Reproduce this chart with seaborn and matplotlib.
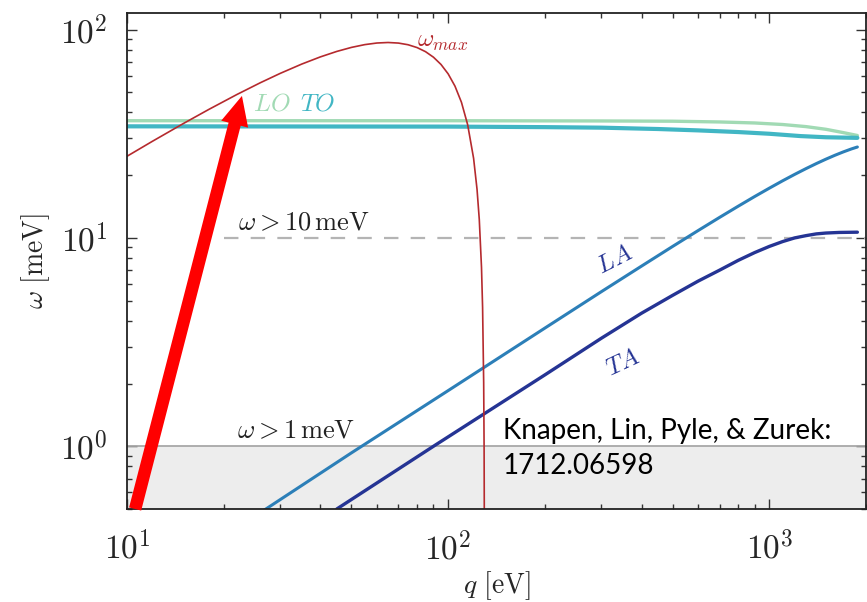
import numpy as np
import matplotlib
matplotlib.use("Agg")
import matplotlib.pyplot as plt
import matplotlib.ticker as mticker
import seaborn as sns

# omega_max kinematic curve (q in eV, omega in meV)
q_wmax = [10, 12, 15, 18, 22, 26, 30, 35, 40, 45, 50, 55, 60, 65, 70, 75, 80, 85,
          90, 95, 100, 105, 110, 115, 120, 123, 125, 127, 128, 129, 129.4, 129.6]
w_wmax = [24.64, 29.08, 35.42, 41.39, 48.78, 55.51, 61.58, 68.24, 73.88, 78.48, 82.06,
          84.61, 86.13, 86.62, 86.08, 84.51, 81.91, 78.29, 73.63, 67.95, 61.24, 53.50,
          44.73, 34.93, 24.10, 17.11, 12.25, 7.22, 4.64, 2.02, 0.97, 0.43]

# optical branches
q_lo = [10, 100, 300, 500, 700, 900, 1100, 1300, 1500, 1700, 1880]
w_lo = [36.5, 36.5, 36.4, 36.3, 36.0, 35.6, 35.0, 34.2, 33.2, 32.0, 31.0]
q_to = [10, 100, 200, 300, 450, 600, 800, 1000, 1250, 1500, 1880]
w_to = [34.3, 34.2, 34.0, 33.8, 33.3, 32.8, 32.2, 31.6, 30.8, 30.4, 30.2]

# acoustic branches
q_la = [26, 50, 100, 200, 300, 400, 500, 600, 700, 800, 900, 1000, 1100, 1200,
        1300, 1400, 1500, 1600, 1700, 1800, 1880]
w_la = [0.48, 0.93, 1.85, 3.69, 5.52, 7.32, 9.10, 10.84, 12.54, 14.19, 15.79, 17.32,
        18.79, 20.18, 21.49, 22.72, 23.86, 24.91, 25.86, 26.71, 27.3]
q_ta = [45, 90, 200, 300, 400, 500, 600, 700, 800, 900, 1000, 1100, 1200, 1300,
        1400, 1500, 1650, 1880]
w_ta = [0.5, 1.0, 2.2, 3.3, 4.35, 5.3, 6.2, 7.0, 7.8, 8.5, 9.1, 9.6, 10.0, 10.25,
        10.45, 10.55, 10.62, 10.65]

# thresholds
w_thresh_low = 1
w_thresh_high = 10

sns.set_style("ticks")
plt.rcParams["font.family"] = ["DejaVu Serif"]
plt.rcParams["mathtext.fontset"] = "cm"

c_lo, c_to, c_la, c_ta = "#a1dab4", "#41b6c4", "#2c7fb8", "#253494"
c_wmax = "#b52a2e"

fig = plt.figure(figsize=(8.67, 6.02), dpi=100)
ax = fig.add_axes([127 / 867, 93 / 602, 739 / 867, 496 / 602])

ax.axhspan(0.5, w_thresh_low, color="#ededed", zorder=0, lw=0)
ax.axhline(w_thresh_low, color="#a8a8a8", lw=1.3, zorder=1)
ax.hlines(w_thresh_high, 20, 2000, colors="#b4b4b4", lw=1.6, linestyles=(0, (6.5, 5.5)), zorder=1)

sns.lineplot(x=q_lo, y=w_lo, ax=ax, color=c_lo, linewidth=2.4)
sns.lineplot(x=q_to, y=w_to, ax=ax, color=c_to, linewidth=3.0)
sns.lineplot(x=q_la, y=w_la, ax=ax, color=c_la, linewidth=2.2)
sns.lineplot(x=q_ta, y=w_ta, ax=ax, color=c_ta, linewidth=2.4)
sns.lineplot(x=q_wmax, y=w_wmax, ax=ax, color=c_wmax, linewidth=1.2)

ax.set_xscale("log")
ax.set_yscale("log")
ax.set_xlim(10, 2000)
ax.set_ylim(0.5, 120)

fmt = mticker.FuncFormatter(lambda v, _: f"$10^{{{int(round(np.log10(v)))}}}$")
ax.xaxis.set_major_locator(mticker.FixedLocator([10, 100, 1000]))
ax.yaxis.set_major_locator(mticker.FixedLocator([1, 10, 100]))
ax.xaxis.set_major_formatter(fmt)
ax.yaxis.set_major_formatter(fmt)
ax.xaxis.set_minor_locator(mticker.LogLocator(subs=np.arange(2, 10)))
ax.yaxis.set_minor_locator(mticker.LogLocator(subs=np.arange(2, 10)))
ax.xaxis.set_minor_formatter(mticker.NullFormatter())
ax.yaxis.set_minor_formatter(mticker.NullFormatter())
ax.tick_params(which="both", direction="in", top=True, right=True, width=1.0, color="#333333")
ax.tick_params(which="major", length=7, labelsize=24)
ax.tick_params(axis="x", which="major", pad=16)
ax.tick_params(axis="y", which="major", pad=14)
ax.tick_params(which="minor", length=3.5)
for s in ax.spines.values():
    s.set_linewidth(1.3)
    s.set_color("#222222")

ax.set_xlabel(r"$q\ [\mathrm{eV}]$", fontsize=20, labelpad=2)
ax.set_ylabel(r"$\omega\ [\mathrm{meV}]$", fontsize=20, labelpad=6)

# labels
ax.text(96, 88, r"$\omega_{max}$", color=c_wmax, fontsize=18, ha="center", va="center")
ax.text(28.3, 44, r"$LO$", color=c_lo, fontsize=18, ha="center", va="center")
ax.text(39.3, 44, r"$TO$", color=c_to, fontsize=18, ha="center", va="center")
ax.text(331, 7.8, r"$LA$", color=c_ta, fontsize=18, ha="center", va="center", rotation=27)
ax.text(351, 2.5, r"$TA$", color=c_ta, fontsize=18, ha="center", va="center", rotation=25)
ax.text(35.4, 11.85, r"$\omega > 10\,\mathrm{meV}$", fontsize=19, color="#222222",
        ha="center", va="center")
ax.text(33.6, 1.19, r"$\omega > 1\,\mathrm{meV}$", fontsize=19, color="#222222",
        ha="center", va="center")

ax.text(148, 1.36, "Knapen, Lin, Pyle, & Zurek:\n1712.06598", family=["Lato", "DejaVu Sans"],
        fontsize=20, color="black", ha="left", va="top", linespacing=1.4)

# red arrow
ax.annotate("", xy=(22.8, 48), xytext=(10.6, 0.5),
            arrowprops=dict(facecolor="#ff0000", edgecolor="none", width=9,
                            headwidth=20, headlength=21, shrink=0))

fig.savefig("out.png", dpi=100, facecolor="white")
